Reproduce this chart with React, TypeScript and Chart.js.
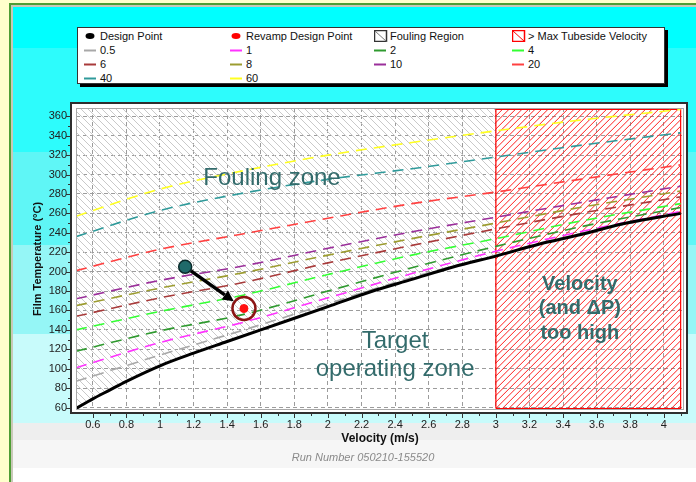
import React, { useEffect, useRef } from 'react';
import { Chart, registerables } from 'chart.js';

Chart.register(...registerables);

const FONT = '"Liberation Sans", Arial, Helvetica, sans-serif';

// ---------- axes ----------
const X_MIN = 0.5;
const X_MAX = 4.12;
const Y_MIN = 57.5;
const Y_MAX = 368.5;
const X_TICKS = [0.6, 0.8, 1, 1.2, 1.4, 1.6, 1.8, 2, 2.2, 2.4, 2.6, 2.8, 3, 3.2, 3.4, 3.6, 3.8, 4];
const Y_TICKS = [60, 80, 100, 120, 140, 160, 180, 200, 220, 240, 260, 280, 300, 320, 340, 360];

// ---------- clean (no-fouling) boundary, black ----------
const CLEAN_VELOCITY = [0.5, 0.6, 0.7, 0.8, 1.0, 1.2, 1.4, 1.6, 1.8, 2.0, 2.25, 2.5, 2.75, 3.0, 3.25, 3.5, 3.75, 4.1];
const CLEAN_TEMP = [59, 69, 78, 87, 103, 116, 128, 140, 152, 164, 179, 192, 205, 216, 228, 238, 249, 260];

// ---------- fouling threshold curves ----------
const CURVE_VELOCITY = [0.5, 1.0, 1.5, 2.0, 2.5, 3.0, 3.5, 4.1];
const TEMP_0_5 = [87, 114, 140, 167, 194, 217, 239, 260];
const TEMP_1 = [101, 127, 148, 173, 198, 221, 241, 262];
const TEMP_2 = [118, 139, 156, 180, 204, 226, 246, 266];
const TEMP_4 = [140, 159, 176, 197, 217, 234, 252, 270];
const TEMP_6 = [154, 173, 189, 209, 227, 244, 260, 277];
const TEMP_8 = [165, 183, 199, 217, 234, 250, 266, 283];
const TEMP_10 = [172, 191, 206, 224, 241, 256, 271, 288];
const TEMP_20 = [201, 223, 239, 255, 270, 282, 295, 310];
const TEMP_40 = [236, 263, 281, 295, 306, 318, 330, 343];
const TEMP_60 = [257, 285, 304, 320, 333, 345, 356, 367];
const CURVE_SERIES = [TEMP_0_5, TEMP_1, TEMP_2, TEMP_4, TEMP_6, TEMP_8, TEMP_10, TEMP_20, TEMP_40, TEMP_60];
const CURVE_LABELS = ['0.5', '1', '2', '4', '6', '8', '10', '20', '40', '60'];
const CURVE_COLORS = ['#a8a8a8', '#ff33ff', '#2f9a2f', '#33ff33', '#a83a3a', '#9c9c30', '#9a2f9a', '#ff4040', '#2f9a9a', '#ffff20'];

// ---------- points ----------
const DESIGN_VELOCITY = [1.15];
const DESIGN_TEMP = [205];
const REVAMP_VELOCITY = [1.5];
const REVAMP_TEMP = [162];

// ---------- max tubeside velocity region ----------
const MAX_BOX_VELOCITY = [3.0, 4.1];
const MAX_BOX_TEMP = [59, 367];

function makeHatch(color: string, spacing: number, lw: number) {
  const c = document.createElement('canvas');
  c.width = spacing;
  c.height = spacing;
  const g = c.getContext('2d') as CanvasRenderingContext2D;
  g.strokeStyle = color;
  g.lineWidth = lw;
  g.beginPath();
  for (let k = -1; k <= 1; k++) {
    g.moveTo(k * spacing, 0);
    g.lineTo(k * spacing + spacing, spacing);
  }
  g.stroke();
  return g.createPattern(c, 'repeat') as CanvasPattern;
}

const chartPlugin = {
  id: 'decor',
  beforeDraw(chart: any) {
    const { ctx, chartArea: a } = chart;
    const L = a.left - 5, T = a.top - 5, R = a.right + 3, B = a.bottom + 3;
    ctx.save();
    ctx.fillStyle = '#ffffff';
    ctx.fillRect(L, T, R - L, B - T);
    ctx.restore();
  },
  afterDatasetDraw(chart: any, args: any) {
    const ds = chart.data.datasets[args.index];
    if (!ds || ds.label !== 'Fouling Region') return;
    // red hatching of the "> Max Tubeside Velocity" region
    const { ctx } = chart;
    const xs = chart.scales.x, ys = chart.scales.y;
    const x0 = xs.getPixelForValue(MAX_BOX_VELOCITY[0]);
    const x1 = xs.getPixelForValue(MAX_BOX_VELOCITY[1]);
    const yT = ys.getPixelForValue(MAX_BOX_TEMP[1]);
    const yB = ys.getPixelForValue(MAX_BOX_TEMP[0]);
    const h = yB - yT;
    ctx.save();
    ctx.beginPath();
    ctx.rect(x0, yT, x1 - x0, h);
    ctx.clip();
    ctx.strokeStyle = 'rgba(255,20,20,0.95)';
    ctx.lineWidth = 1;
    ctx.beginPath();
    for (let c = x0 - h; c < x1 + 2; c += 6.5) {
      ctx.moveTo(c, yB);
      ctx.lineTo(c + h, yT);
    }
    ctx.stroke();
    ctx.restore();
  },
  afterDatasetsDraw(chart: any) {
    const { ctx } = chart;
    const xs = chart.scales.x, ys = chart.scales.y;
    const px = (v: number) => xs.getPixelForValue(v);
    const py = (t: number) => ys.getPixelForValue(t);
    ctx.save();
    // ring around revamp point
    const rx = px(REVAMP_VELOCITY[0]), ry = py(REVAMP_TEMP[0]);
    ctx.beginPath();
    ctx.arc(rx, ry, 11.5, 0, Math.PI * 2);
    ctx.strokeStyle = '#8b1414';
    ctx.lineWidth = 2.5;
    ctx.stroke();
    // arrow design -> revamp
    const dxp = px(DESIGN_VELOCITY[0]), dyp = py(DESIGN_TEMP[0]);
    const vx = rx - dxp, vy = ry - dyp;
    const len = Math.hypot(vx, vy);
    const ux = vx / len, uy = vy / len;
    const sx = dxp + ux * 7, sy = dyp + uy * 7;
    const ex = rx - ux * 12.5, ey = ry - uy * 12.5;
    const hl = 11, hw = 5.5;
    const bx = ex - ux * hl, by = ey - uy * hl;
    ctx.strokeStyle = '#000';
    ctx.fillStyle = '#000';
    ctx.lineWidth = 3.5;
    ctx.beginPath();
    ctx.moveTo(sx, sy);
    ctx.lineTo(bx, by);
    ctx.stroke();
    ctx.beginPath();
    ctx.moveTo(ex, ey);
    ctx.lineTo(bx - uy * hw, by + ux * hw);
    ctx.lineTo(bx + uy * hw, by - ux * hw);
    ctx.closePath();
    ctx.fill();
    // zone texts
    ctx.fillStyle = '#336b6b';
    ctx.textAlign = 'center';
    ctx.textBaseline = 'middle';
    ctx.font = '24px ' + FONT;
    ctx.fillText('Fouling zone', px(1.667), py(296.5));
    ctx.fillText('Target', px(2.4), py(128.5));
    ctx.fillText('operating zone', px(2.4), py(99.5));
    ctx.font = 'bold 20px ' + FONT;
    ctx.fillText('Velocity', px(3.5), py(187));
    ctx.fillText('(and \u0394P)', px(3.5), py(162));
    ctx.fillText('too high', px(3.5), py(136.5));
    ctx.restore();
  },
  afterDraw(chart: any) {
    const { ctx, chartArea: a } = chart;
    const xs = chart.scales.x, ys = chart.scales.y;
    const L = a.left - 5, T = a.top - 5, R = a.right + 3, B = a.bottom + 3;
    ctx.save();
    // inner border
    ctx.strokeStyle = '#a8a8a8';
    ctx.lineWidth = 1;
    ctx.strokeRect(a.left + 0.5, a.top + 0.5, a.right - a.left - 1, a.bottom - a.top - 1);
    // outer frame
    ctx.strokeStyle = '#2e2e2e';
    ctx.lineWidth = 2;
    ctx.strokeRect(L, T, R - L, B - T);
    // ticks
    ctx.strokeStyle = '#333';
    ctx.lineWidth = 1;
    ctx.beginPath();
    for (const v of X_TICKS) {
      const x = Math.round(xs.getPixelForValue(v)) + 0.5;
      ctx.moveTo(x, B);
      ctx.lineTo(x, B + 5);
      const xm = Math.round(xs.getPixelForValue(v + 0.1)) + 0.5;
      if (v + 0.1 < X_MAX) {
        ctx.moveTo(xm, B);
        ctx.lineTo(xm, B + 3);
      }
    }
    for (const t of Y_TICKS) {
      const y = Math.round(ys.getPixelForValue(t)) + 0.5;
      ctx.moveTo(L, y);
      ctx.lineTo(L - 5, y);
      if (t + 10 < Y_MAX) {
        const ym = Math.round(ys.getPixelForValue(t + 10)) + 0.5;
        ctx.moveTo(L, ym);
        ctx.lineTo(L - 3, ym);
      }
    }
    ctx.stroke();
    // run number
    ctx.fillStyle = '#8a8a8a';
    ctx.font = 'italic 11px ' + FONT;
    ctx.textAlign = 'center';
    ctx.textBaseline = 'middle';
    ctx.fillText('Run Number 050210-155520', (a.left + a.right) / 2 - 17, a.bottom + 48);
    ctx.restore();
  },
};

const BANDS = [
  { top: 0, height: 41, color: '#00ffff' },
  { top: 41, height: 104, color: '#2dfcfc' },
  { top: 145, height: 93, color: '#5ff6f6' },
  { top: 238, height: 89, color: '#95f6f6' },
  { top: 327, height: 89, color: '#c8fbfb' },
  { top: 416, height: 17, color: '#eeeeee' },
  { top: 433, height: 28, color: '#f6f6f6' },
  { top: 461, height: 40, color: '#ffffff' },
];

type LegendItem = { kind: string; label: string; color: string };
const LEGEND_ITEMS: LegendItem[] = [
  { kind: 'dot', label: 'Design Point', color: '#000' },
  { kind: 'dot', label: 'Revamp Design Point', color: '#ff0000' },
  { kind: 'box', label: 'Fouling Region', color: '#333' },
  { kind: 'box', label: '> Max Tubeside Velocity', color: '#ff0000' },
  ...CURVE_LABELS.map((l, i) => ({ kind: 'line', label: l, color: CURVE_COLORS[i] })),
];
const LEGEND_COLS = [6, 152, 296, 434];

function Symbol({ item }: { item: LegendItem }) {
  if (item.kind === 'dot') {
    return (
      <svg width="14" height="12" style={{ display: 'block' }}>
        <ellipse cx="6" cy="6" rx="4.5" ry="3" fill={item.color} />
      </svg>
    );
  }
  if (item.kind === 'box') {
    return (
      <svg width="14" height="12" style={{ display: 'block' }}>
        <rect x="0.5" y="0.5" width="12" height="11" fill="#fff" stroke={item.color} strokeWidth="1.5" />
        <line x1="1" y1="1" x2="12.5" y2="11.5" stroke={item.color === '#333' ? '#777' : item.color} strokeWidth="1" />
      </svg>
    );
  }
  return (
    <svg width="14" height="12" style={{ display: 'block' }}>
      <line x1="0" y1="6.5" x2="12" y2="6.5" stroke={item.color} strokeWidth="2" />
    </svg>
  );
}

export default function App() {
  const ref = useRef<HTMLCanvasElement>(null);

  useEffect(() => {
    const canvas = ref.current as HTMLCanvasElement;
    const foulPattern = makeHatch('#c9c9c9', 7, 1);

    const curveSets = CURVE_SERIES.map((temps, i) => ({
      type: 'line',
      label: CURVE_LABELS[i],
      data: CURVE_VELOCITY.map((v, j) => ({ x: v, y: temps[j] })),
      borderColor: CURVE_COLORS[i],
      borderWidth: 1.6,
      borderDash: [11, 7],
      pointRadius: 0,
      fill: false,
      cubicInterpolationMode: 'monotone',
    }));

    const cleanData = CLEAN_VELOCITY.map((v, i) => ({ x: v, y: CLEAN_TEMP[i] }));
    const foulingData = cleanData.filter((p) => p.x <= MAX_BOX_VELOCITY[0]);

    const chart = new Chart(canvas, {
      type: 'line',
      data: {
        datasets: [
          {
            label: 'Design Point',
            data: DESIGN_VELOCITY.map((v, i) => ({ x: v, y: DESIGN_TEMP[i] })),
            showLine: false,
            pointRadius: 6.5,
            pointBackgroundColor: '#1f6a6a',
            pointBorderColor: '#0a2a2a',
            pointBorderWidth: 1.5,
          },
          {
            label: 'Revamp Design Point',
            data: REVAMP_VELOCITY.map((v, i) => ({ x: v, y: REVAMP_TEMP[i] })),
            showLine: false,
            pointRadius: 4,
            pointBackgroundColor: '#ff1010',
            pointBorderColor: '#ff1010',
            pointBorderWidth: 1,
          },
          {
            label: 'Clean',
            data: cleanData,
            borderColor: '#000',
            borderWidth: 3,
            pointRadius: 0,
            fill: false,
            cubicInterpolationMode: 'monotone',
          },
          ...curveSets,
          {
            label: '> Max Tubeside Velocity',
            data: [
              { x: MAX_BOX_VELOCITY[0], y: MAX_BOX_TEMP[0] },
              { x: MAX_BOX_VELOCITY[0], y: MAX_BOX_TEMP[1] },
              { x: MAX_BOX_VELOCITY[1], y: MAX_BOX_TEMP[1] },
              { x: MAX_BOX_VELOCITY[1], y: MAX_BOX_TEMP[0] },
              { x: MAX_BOX_VELOCITY[0], y: MAX_BOX_TEMP[0] },
            ],
            borderColor: '#ff0000',
            borderWidth: 1.2,
            pointRadius: 0,
            fill: false,
            tension: 0,
          },
          {
            label: 'Fouling Region',
            data: foulingData,
            borderColor: 'rgba(0,0,0,0)',
            borderWidth: 1,
            pointRadius: 0,
            backgroundColor: foulPattern,
            fill: 'end',
            cubicInterpolationMode: 'monotone',
          },
        ] as any,
      },
      options: {
        animation: false,
        responsive: false,
        devicePixelRatio: 1,
        layout: { padding: { left: 0, top: 108, right: 12, bottom: 0 } },
        plugins: { legend: { display: false }, tooltip: { enabled: false } },
        scales: {
          x: {
            type: 'linear',
            min: X_MIN,
            max: X_MAX,
            afterBuildTicks: (s: any) => {
              s.ticks = X_TICKS.map((v) => ({ value: v }));
            },
            afterFit: (s: any) => {
              s.height = 72;
            },
            ticks: {
              autoSkip: false,
              maxRotation: 0,
              padding: 8,
              color: '#222',
              font: { family: FONT, size: 11 },
              callback: (v: any) => String(v),
            },
            grid: { color: '#9c9c9c', lineWidth: 1, drawTicks: false },
            border: { display: false, dash: [4, 3] },
            title: {
              display: true,
              text: 'Velocity (m/s)',
              color: '#111',
              font: { family: FONT, size: 12, weight: 'bold' },
              padding: { top: 0, bottom: 36 },
            },
          },
          y: {
            type: 'linear',
            min: Y_MIN,
            max: Y_MAX,
            afterBuildTicks: (s: any) => {
              s.ticks = Y_TICKS.map((v) => ({ value: v }));
            },
            afterFit: (s: any) => {
              s.width = 76;
            },
            ticks: {
              autoSkip: false,
              padding: 9,
              color: '#222',
              font: { family: FONT, size: 11 },
              callback: (v: any) => String(v),
            },
            grid: { color: '#9c9c9c', lineWidth: 1, drawTicks: false },
            border: { display: false, dash: [4, 3] },
            title: {
              display: true,
              text: 'Film Temperature (\u00B0C)',
              color: '#111',
              font: { family: FONT, size: 11, weight: 'bold' },
              padding: { top: 31, bottom: 0 },
            },
          },
        },
      } as any,
      plugins: [chartPlugin],
    });
    return () => chart.destroy();
  }, []);

  return (
    <div
      style={{
        position: 'fixed',
        left: 0,
        top: 0,
        width: 696,
        height: 482,
        overflow: 'hidden',
        background: '#ffffcc',
        fontFamily: FONT,
      }}
    >
      <div
        style={{
          position: 'absolute',
          left: 9,
          top: 3,
          right: -10,
          bottom: -10,
          borderLeft: '2px solid #4e9e34',
          borderTop: '2px solid #4e9e34',
        }}
      >
        <div
          style={{
            position: 'absolute',
            left: 0,
            top: 0,
            right: 0,
            bottom: 0,
            borderLeft: '2px solid #c9c9b8',
            borderTop: '2px solid #c9c9b8',
            overflow: 'hidden',
          }}
        >
          {BANDS.map((b, i) => (
            <div
              key={i}
              style={{ position: 'absolute', left: 0, right: 0, top: b.top, height: b.height, background: b.color }}
            />
          ))}
        </div>
      </div>

      <div
        style={{
          position: 'absolute',
          left: 77,
          top: 27,
          width: 588,
          height: 57,
          boxSizing: 'border-box',
          border: '1px solid #333',
          background: '#fff',
          boxShadow: '3px 3px 0 #000',
        }}
      >
        {LEGEND_ITEMS.map((it, i) => {
          const col = i % 4;
          const row = Math.floor(i / 4);
          return (
            <div
              key={i}
              style={{
                position: 'absolute',
                left: LEGEND_COLS[col],
                top: 1 + row * 14,
                height: 14,
                display: 'flex',
                alignItems: 'center',
                fontSize: 11,
                color: '#111',
                whiteSpace: 'nowrap',
              }}
            >
              <Symbol item={it} />
              <span style={{ marginLeft: 2 }}>{it.label}</span>
            </div>
          );
        })}
      </div>

      <canvas
        ref={ref}
        width={696}
        height={482}
        style={{ position: 'absolute', left: 0, top: 0, width: 696, height: 482 }}
      />
    </div>
  );
}
